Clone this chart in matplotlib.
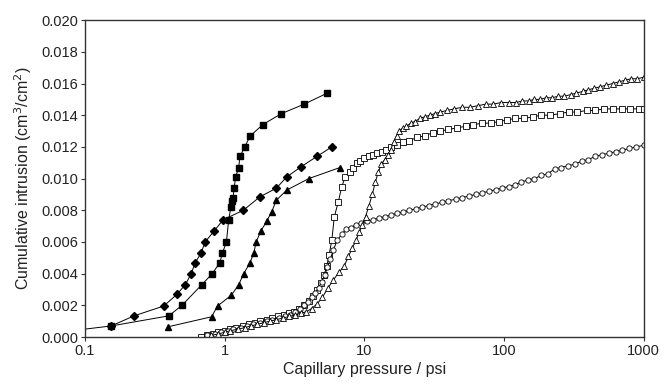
import matplotlib
matplotlib.use("Agg")
import matplotlib.pyplot as plt
from matplotlib.ticker import FixedLocator, FixedFormatter, NullLocator

plt.rcParams['font.family'] = ['Liberation Sans', 'DejaVu Sans']

# filled series (psi, cm3/cm2)
dia_x = [0.08, 0.154, 0.225, 0.367, 0.456, 0.523, 0.577, 0.616, 0.679, 0.725,
         0.843, 0.976, 1.36, 1.79, 2.35, 2.78, 3.53, 4.58, 5.85]
dia_y = [0.0004, 0.0007, 0.00134, 0.00196, 0.0027, 0.0033, 0.0040, 0.0047, 0.0053, 0.0060,
         0.0067, 0.0074, 0.0080, 0.00885, 0.0094, 0.0101, 0.01075, 0.0114, 0.0120]

sq_x = [0.154, 0.399, 0.495, 0.686, 0.816, 0.925, 0.965, 1.03, 1.07, 1.11, 1.13,
        1.15, 1.17, 1.2, 1.26, 1.29, 1.39, 1.53, 1.87, 2.55, 3.72, 5.45]
sq_y = [0.0007, 0.00134, 0.0020, 0.0033, 0.0040, 0.0047, 0.0053, 0.0060, 0.0074, 0.0082, 0.0086,
        0.0088, 0.0094, 0.0101, 0.0107, 0.0114, 0.0120, 0.0127, 0.0134, 0.0141, 0.0147, 0.0154]

tri_x = [0.394, 0.807, 0.89, 1.12, 1.26, 1.37, 1.51, 1.62, 1.68, 1.82, 2.01, 2.17,
         2.35, 2.78, 4.0, 6.7]
tri_y = [0.00065, 0.00128, 0.00196, 0.00265, 0.0033, 0.0040, 0.00465, 0.0053, 0.0060, 0.0067,
         0.00734, 0.0079, 0.00864, 0.00927, 0.0100, 0.0107]

# open series
osq_x = [0.68, 0.75, 0.82, 0.9, 1.0, 1.1, 1.2, 1.35, 1.5, 1.65, 1.8, 2.0, 2.2, 2.4, 2.65,
         2.9, 3.15, 3.4, 3.7, 4.0, 4.3, 4.6, 4.9, 5.15, 5.4, 5.6, 5.85, 6.1, 6.5, 6.9, 7.3,
         7.9, 8.3, 8.8, 9.3, 10.0, 10.8, 11.6, 12.4, 13.3, 14.3, 15.5, 17, 19, 21, 24, 27,
         31, 35, 40, 46, 53, 60, 70, 80, 92, 105, 120, 140, 160, 185, 215, 250, 290, 335,
         390, 450, 520, 600, 700, 800, 920, 1000]
osq_y = [0.0000, 0.0001, 0.0002, 0.0003, 0.0004, 0.0005, 0.0006, 0.0007, 0.0008, 0.0009,
         0.0010, 0.0011, 0.0012, 0.0013, 0.0014, 0.0015, 0.0016, 0.0018, 0.0020, 0.0023,
         0.0026, 0.0030, 0.0034, 0.0039, 0.0045, 0.0052, 0.0061, 0.0076, 0.0085, 0.0095,
         0.0101, 0.0104, 0.0107, 0.0110, 0.0111, 0.0113, 0.0114, 0.0115, 0.0116, 0.0117,
         0.0118, 0.0120, 0.0121, 0.0123, 0.0124, 0.0126, 0.0127, 0.0129, 0.0130, 0.0131,
         0.0132, 0.0133, 0.0134, 0.0135, 0.0135, 0.0136, 0.0137, 0.0138, 0.0138, 0.0139,
         0.0140, 0.0140, 0.0141, 0.0142, 0.0142, 0.0143, 0.0143, 0.0144, 0.0144, 0.0144,
         0.0144, 0.0144, 0.0144]

oci_x = [0.75, 0.85, 0.95, 1.05, 1.15, 1.3, 1.45, 1.6, 1.8, 2.0, 2.2, 2.45, 2.7, 2.95,
         3.2, 3.45, 3.7, 3.95, 4.2, 4.45, 4.7, 4.95, 5.2, 5.45, 5.7, 6.0, 6.4, 6.9, 7.4,
         8.0, 8.7, 9.5, 10.5, 11.5, 12.7, 14, 15.5, 17, 19, 21, 23.5, 26, 29, 32, 36, 40,
         45, 50, 56, 63, 70, 78, 87, 97, 108, 120, 133, 148, 165, 185, 205, 230, 255, 285,
         320, 360, 400, 450, 500, 560, 630, 700, 790, 880, 1000]
oci_y = [0.0001, 0.0002, 0.0003, 0.0004, 0.0005, 0.0006, 0.0007, 0.0008, 0.0009, 0.0010,
         0.0011, 0.0012, 0.0013, 0.0014, 0.0016, 0.0018, 0.0020, 0.0022, 0.0025, 0.0028,
         0.0031, 0.0035, 0.0039, 0.0044, 0.0049, 0.0055, 0.0061, 0.0065, 0.0068, 0.0069,
         0.0071, 0.0072, 0.0073, 0.0074, 0.0075, 0.0076, 0.0077, 0.0078, 0.0079, 0.0080,
         0.0081, 0.0082, 0.0083, 0.0084, 0.0085, 0.0086, 0.0087, 0.0088, 0.0089, 0.0090,
         0.0091, 0.0092, 0.0093, 0.0094, 0.0095, 0.0096, 0.0098, 0.0099, 0.0100, 0.0102,
         0.0103, 0.0106, 0.0107, 0.0108, 0.0109, 0.0111, 0.0112, 0.0114, 0.0115, 0.0116,
         0.0117, 0.0118, 0.0119, 0.0120, 0.0121]

otr_x = [0.8, 0.9, 1.0, 1.1, 1.25, 1.4, 1.55, 1.7, 1.9, 2.1, 2.35, 2.6, 2.9, 3.2, 3.5,
         3.85, 4.2, 4.6, 5.0, 5.5, 6.0, 6.6, 7.2, 7.7, 8.2, 8.7, 9.2, 9.7, 10.2, 10.8,
         11.4, 12.0, 12.6, 13.2, 14, 14.7, 15.4, 16.2, 17, 17.8, 18.8, 20, 21.5, 23, 25,
         27, 29.5, 32, 35, 39, 44, 50, 57, 65, 74, 84, 95, 108, 122, 135, 150, 165, 180,
         200, 220, 245, 270, 300, 330, 365, 400, 440, 490, 540, 600, 660, 730, 810, 900, 1000]
otr_y = [0.0001, 0.0002, 0.0003, 0.0004, 0.0005, 0.0006, 0.0007, 0.0008, 0.0009, 0.0010,
         0.0011, 0.0012, 0.0013, 0.0014, 0.0015, 0.0016, 0.0018, 0.0021, 0.0025, 0.0031,
         0.0036, 0.0041, 0.0045, 0.0051, 0.0056, 0.0061, 0.0066, 0.0071, 0.0076, 0.0083,
         0.0090, 0.0098, 0.0104, 0.0109, 0.0112, 0.0115, 0.0118, 0.0123, 0.0127, 0.0130,
         0.0132, 0.0133, 0.0135, 0.0136, 0.0138, 0.0139, 0.0140, 0.0141, 0.0142, 0.0143,
         0.0144, 0.0145, 0.0145, 0.0146, 0.0147, 0.0147, 0.0148, 0.0148, 0.0148, 0.0149,
         0.0149, 0.0150, 0.0150, 0.0151, 0.0151, 0.0152, 0.0152, 0.0153, 0.0154, 0.0155,
         0.0156, 0.0157, 0.0158, 0.0159, 0.0160, 0.0161, 0.0162, 0.0163, 0.0163, 0.0164]

x_ticks = [0.1, 1, 10, 100, 1000]
x_labels = ['0.1', '1', '10', '100', '1000']
y_ticks = [0.000, 0.002, 0.004, 0.006, 0.008, 0.010, 0.012, 0.014, 0.016, 0.018, 0.020]

fig = plt.figure(figsize=(6.63, 3.87), dpi=100)
ax = fig.add_axes([0.128, 0.129, 0.843, 0.819])

line_kw = dict(color='black', linewidth=0.7)
ax.plot(osq_x, osq_y, marker='s', markersize=3.8, markerfacecolor='white',
        markeredgecolor='black', markeredgewidth=0.6, **line_kw)
ax.plot(oci_x, oci_y, marker='o', markersize=3.8, markerfacecolor='white',
        markeredgecolor='black', markeredgewidth=0.6, **line_kw)
ax.plot(otr_x, otr_y, marker='^', markersize=4.0, markerfacecolor='white',
        markeredgecolor='black', markeredgewidth=0.6, **line_kw)
ax.plot(dia_x, dia_y, marker='D', markersize=3.8, markerfacecolor='black',
        markeredgecolor='black', **line_kw)
ax.plot(sq_x, sq_y, marker='s', markersize=4.6, markerfacecolor='black',
        markeredgecolor='black', **line_kw)
ax.plot(tri_x, tri_y, marker='^', markersize=4.8, markerfacecolor='black',
        markeredgecolor='black', **line_kw)

ax.set_xscale('log')
ax.set_xlim(0.1, 1000)
ax.set_ylim(0, 0.020)
ax.xaxis.set_major_locator(FixedLocator(x_ticks))
ax.xaxis.set_major_formatter(FixedFormatter(x_labels))
ax.xaxis.set_minor_locator(NullLocator())
ax.set_yticks(y_ticks)
ax.set_yticklabels(['%.3f' % v for v in y_ticks])

for s in ax.spines.values():
    s.set_color('#333333')
    s.set_linewidth(1.0)
ax.tick_params(direction='out', length=3, width=0.8, colors='#333333',
               labelsize=10.5, labelcolor='#222222', pad=2)

ax.set_xlabel('Capillary pressure / psi', fontsize=11.5, color='#222222', labelpad=3)
ax.set_ylabel('Cumulative intrusion (cm$^3$/cm$^2$)', fontsize=11.5, color='#222222',
              labelpad=5)

fig.savefig('out.png', dpi=100)
